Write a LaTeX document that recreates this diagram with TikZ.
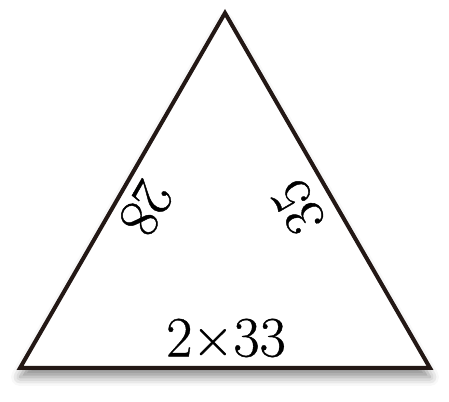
\documentclass[tikz,border=0pt]{standalone}
\usepackage{fontspec}
\setmainfont{Latin Modern Roman}
\usetikzlibrary{shadows.blur}
\definecolor{edgecol}{HTML}{231815}
\tikzset{
  lbl/.style={font=\fontsize{57}{60}\selectfont\addfontfeature{FakeBold=0.7}, inner sep=0pt, text=black},
  tri/.style={draw=edgecol, line width=4pt, line join=miter, fill=white,
    blur shadow={shadow xshift=0pt, shadow yshift=-9pt, shadow blur radius=9pt, shadow opacity=45}}
}
\begin{document}
\begin{tikzpicture}[x=1pt,y=1pt]
\useasboundingbox (0,0) rectangle (449,401);
\coordinate (apex) at (225,388);
\coordinate (bl) at (20,33);
\coordinate (br) at (430,33);
\path[tri] (bl) -- (apex) -- (br) -- cycle;
\node[lbl, rotate=240] (left) at (146,193) {28};
\node[lbl, rotate=120] (right) at (298,194) {35};
\node[lbl] (bottom) at (226,63) {2×33};
\end{tikzpicture}
\end{document}
